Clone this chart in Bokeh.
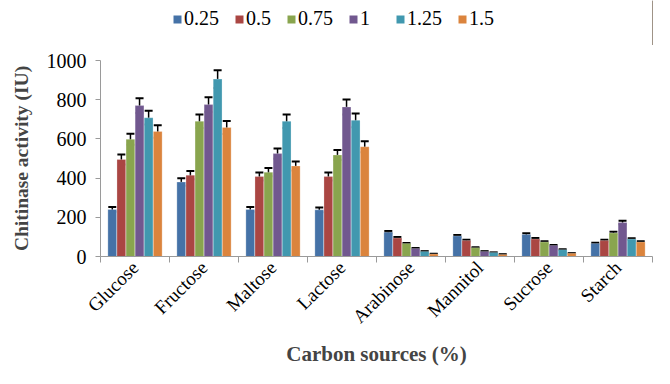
import math
from bokeh.plotting import figure
from bokeh.layouts import column
from bokeh.models import (ColumnDataSource, Range1d, FixedTicker, Whisker, Legend, LegendItem)
from bokeh.transform import dodge
from bokeh.embed import file_html
from bokeh.resources import INLINE

categories = ["Glucose", "Fructose", "Maltose", "Lactose", "Arabinose", "Mannitol", "Sucrose", "Starch"]
series_names = ["0.25", "0.5", "0.75", "1", "1.25", "1.5"]
colors = ["#4572A7", "#AA4643", "#89A54E", "#71588F", "#4198AF", "#DB843D"]

v_025 = [240, 380, 240, 238, 124, 105, 112, 66]
v_05 = [495, 415, 408, 408, 94, 81, 89, 81]
v_075 = [598, 690, 430, 518, 66, 45, 74, 120]
v_1 = [770, 775, 525, 763, 41, 26, 56, 173]
v_125 = [708, 905, 690, 695, 26, 20, 35, 89]
v_15 = [638, 658, 462, 560, 13, 10, 16, 74]

e_025 = [12, 19, 12, 12, 6, 5, 6, 4]
e_05 = [25, 21, 20, 20, 5, 4, 5, 4]
e_075 = [28, 35, 21, 26, 3, 2, 4, 6]
e_1 = [38, 38, 26, 38, 2, 1, 3, 9]
e_125 = [35, 45, 35, 35, 1, 1, 2, 4]
e_15 = [32, 33, 23, 28, 1, 1, 1, 4]

values = [v_025, v_05, v_075, v_1, v_125, v_15]
errors = [e_025, e_05, e_075, e_1, e_125, e_15]

# ---- legend strip ----
lg = figure(width=654, height=45, output_backend="svg", toolbar_location=None,
            x_axis_type=None, y_axis_type=None, x_range=Range1d(0, 1), y_range=Range1d(0, 1),
            min_border=0)
lg.outline_line_color = None
lg.xgrid.grid_line_color = None
lg.ygrid.grid_line_color = None
lg_items = []
for name, col in zip(series_names, colors):
    # swatch-only renderer, its single bar lies outside the strip's visible range
    rr = lg.vbar(x=[5], top=[1], width=0.1, fill_color=col, line_color=None)
    lg_items.append(LegendItem(label=name, renderers=[rr]))
legend = Legend(items=lg_items, orientation="horizontal", location=(72, 15),
                label_text_font="Liberation Serif", label_text_font_size="20px",
                label_text_color="black", label_height=20,
                glyph_width=10, glyph_height=10, label_standoff=2, spacing=15,
                border_line_color=None, background_fill_alpha=0, padding=0,
                margin=0)
lg.add_layout(legend, "center")

# ---- main chart ----
p = figure(width=654, height=323, output_backend="svg", toolbar_location=None,
           x_range=Range1d(0, len(categories)), y_range=Range1d(0, 1000),
           min_border_left=100, min_border_right=2, min_border_top=15, min_border_bottom=105)
p.outline_line_color = None
p.xgrid.grid_line_color = None
p.ygrid.grid_line_color = None

bw = 0.79 / 6
xc = [i + 0.5 for i in range(len(categories))]
for j, (name, vals, errs, col) in enumerate(zip(series_names, values, errors, colors)):
    off = (j - 2.5) * bw
    src = ColumnDataSource(dict(x=xc, top=vals,
                                upper=[v + e for v, e in zip(vals, errs)],
                                lower=[v - e for v, e in zip(vals, errs)]))
    p.vbar(x=dodge("x", off), top="top", width=bw * 0.97, source=src,
           fill_color=col, line_color="white", line_alpha=0.5, line_width=0.5)
    w = Whisker(base=dodge("x", off), upper="upper", lower="lower", source=src,
                line_color="black", line_width=1.5)
    w.upper_head.size = 8
    w.lower_head.size = 8
    w.upper_head.line_width = 2
    w.lower_head.line_width = 2
    p.add_layout(w)

# x axis: category labels at centres, tick marks at boundaries
p.xaxis.ticker = FixedTicker(ticks=xc, minor_ticks=list(range(len(categories) + 1)))
p.xaxis.major_label_overrides = {x: c for x, c in zip(xc, categories)}
p.xaxis.major_tick_line_color = None
p.xaxis.minor_tick_line_color = "#9a9a9a"
p.xaxis.minor_tick_out = 6
p.xaxis.minor_tick_in = 0
p.xaxis.axis_line_color = "#9a9a9a"
p.xaxis.major_label_orientation = math.pi / 4
p.xaxis.major_label_text_font = "Liberation Serif"
p.xaxis.major_label_text_font_size = "19px"
p.xaxis.major_label_text_color = "black"
p.xaxis.major_label_standoff = 2
p.xaxis.axis_label = "Carbon sources (%)"
p.xaxis.axis_label_text_font = "Liberation Serif"
p.xaxis.axis_label_text_font_style = "bold"
p.xaxis.axis_label_text_font_size = "21px"
p.xaxis.axis_label_standoff = 4

p.yaxis.ticker = FixedTicker(ticks=[0, 200, 400, 600, 800, 1000])
p.yaxis.minor_tick_line_color = None
p.yaxis.major_tick_line_color = "#9a9a9a"
p.yaxis.major_tick_out = 5
p.yaxis.major_tick_in = 0
p.yaxis.axis_line_color = "#9a9a9a"
p.yaxis.major_label_text_font = "Liberation Serif"
p.yaxis.major_label_text_font_size = "20px"
p.yaxis.major_label_text_color = "black"
p.yaxis.major_label_standoff = 9
p.yaxis.axis_label = "Chitinase activity (IU)"
p.yaxis.axis_label_text_font = "Liberation Serif"
p.yaxis.axis_label_text_font_style = "bold"
p.yaxis.axis_label_text_font_size = "19.5px"
p.yaxis.axis_label_standoff = 12

layout = column(lg, p, spacing=0)
open("out.html", "w").write(file_html(layout, INLINE))
